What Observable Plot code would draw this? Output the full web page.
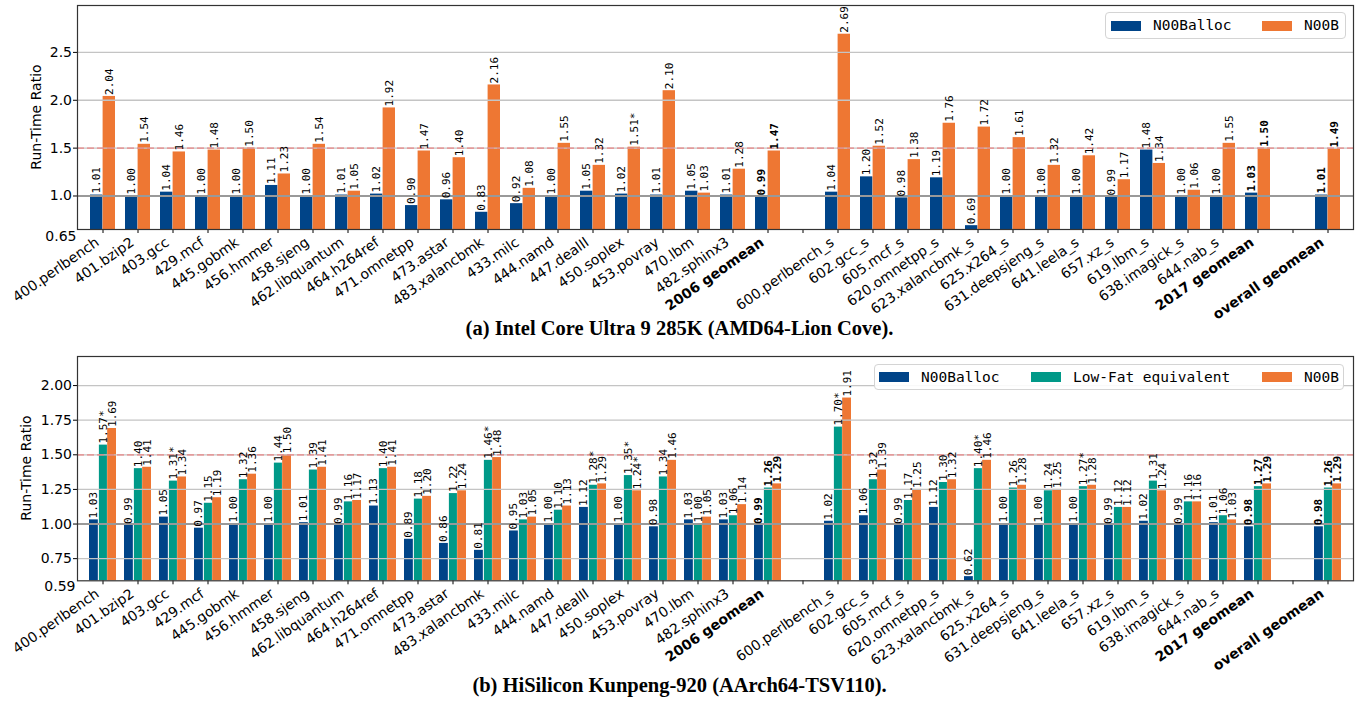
<!DOCTYPE html>
<html>
<head>
<meta charset="utf-8">
<script src="https://cdn.jsdelivr.net/npm/d3@7"></script>
<script src="https://cdn.jsdelivr.net/npm/@observablehq/plot@0.6"></script>
<style>
  body { margin: 0; background: #fff; }
  #wrap { position: relative; width: 1359px; height: 701px; overflow: hidden; font-family: "DejaVu Sans", sans-serif; }
  .panel { position: absolute; left: 0; }
  .caption { position: absolute; left: 0; width: 1359px; text-align: center; font-family: "Liberation Serif", "DejaVu Serif", serif; font-weight: bold; font-size: 20.5px; line-height: 22px; color: #000; }
  .ytitle { position: absolute; width: 200px; height: 16px; margin-left: -100px; margin-top: -8px; text-align: center; font-family: "DejaVu Sans", sans-serif; font-size: 14px; line-height: 16px; color: #000; transform: rotate(-90deg); white-space: nowrap; }
  .legend { position: absolute; background: rgba(255,255,255,0.9); border: 1px solid #d4d4d4; border-radius: 4px; box-sizing: border-box; }
  .sw { position: absolute; width: 30px; height: 10px; }
  .lt { position: absolute; font-family: "DejaVu Sans Mono", monospace; font-size: 14.5px; line-height: 16px; color: #000; white-space: pre; }
</style>
</head>
<body>
<div id="wrap"></div>
<script>
// ---------------- data ----------------
const benchmarks2006 = ["400.perlbench", "401.bzip2", "403.gcc", "429.mcf", "445.gobmk", "456.hmmer", "458.sjeng",
  "462.libquantum", "464.h264ref", "471.omnetpp", "473.astar", "483.xalancbmk", "433.milc", "444.namd",
  "447.dealII", "450.soplex", "453.povray", "470.lbm", "482.sphinx3"];
const benchmarks2017 = ["600.perlbench_s", "602.gcc_s", "605.mcf_s", "620.omnetpp_s", "623.xalancbmk_s", "625.x264_s",
  "631.deepsjeng_s", "641.leela_s", "657.xz_s", "619.lbm_s", "638.imagick_s", "644.nab_s"];
const geomeanLabels = ["2006 geomean", "2017 geomean", "overall geomean"];

const seriesA = ["N00Balloc", "N00B"];
const seriesB = ["N00Balloc", "Low-Fat equivalent", "N00B"];
const seriesColors = ["#004488", "#009988", "#EE7733"]; // N00Balloc, Low-Fat equivalent, N00B

// (a) Intel Core Ultra 9 285K
const intelN00Balloc = [1.01, 1.00, 1.04, 1.00, 1.00, 1.11, 1.00, 1.01, 1.02, 0.90, 0.96, 0.83, 0.92, 1.00, 1.05, 1.02, 1.01, 1.05, 1.01, 0.99,
  1.04, 1.20, 0.98, 1.19, 0.69, 1.00, 1.00, 1.00, 0.99, 1.48, 1.00, 1.00, 1.03,
  1.01];
const intelN00B = [2.04, 1.54, 1.46, 1.48, 1.50, 1.23, 1.54, 1.05, 1.92, 1.47, 1.40, 2.16, 1.08, 1.55, 1.32, 1.51, 2.10, 1.03, 1.28, 1.47,
  2.69, 1.52, 1.38, 1.76, 1.72, 1.61, 1.32, 1.42, 1.17, 1.34, 1.06, 1.55, 1.50,
  1.49];
const intelStarred = [["N00B", "450.soplex"]];

// (b) HiSilicon Kunpeng-920
const kunpengN00Balloc = [1.03, 0.99, 1.05, 0.97, 1.00, 1.00, 1.01, 0.99, 1.13, 0.89, 0.86, 0.81, 0.95, 1.00, 1.12, 1.00, 0.98, 1.03, 1.03, 0.99,
  1.02, 1.06, 0.99, 1.12, 0.62, 1.00, 1.00, 1.00, 0.99, 1.02, 0.99, 1.01, 0.98,
  0.98];
const kunpengLowFat = [1.57, 1.40, 1.31, 1.15, 1.32, 1.44, 1.39, 1.16, 1.40, 1.18, 1.22, 1.46, 1.03, 1.10, 1.28, 1.35, 1.34, 1.00, 1.06, 1.26,
  1.70, 1.32, 1.17, 1.30, 1.40, 1.26, 1.24, 1.27, 1.12, 1.31, 1.16, 1.06, 1.27,
  1.26];
const kunpengN00B = [1.69, 1.41, 1.34, 1.19, 1.36, 1.50, 1.41, 1.17, 1.41, 1.20, 1.24, 1.48, 1.05, 1.13, 1.29, 1.24, 1.46, 1.05, 1.14, 1.29,
  1.91, 1.39, 1.25, 1.32, 1.46, 1.28, 1.25, 1.28, 1.12, 1.24, 1.16, 1.03, 1.29,
  1.29];
const kunpengStarred = [["Low-Fat equivalent", "400.perlbench"], ["Low-Fat equivalent", "403.gcc"], ["Low-Fat equivalent", "483.xalancbmk"],
  ["Low-Fat equivalent", "447.dealII"], ["Low-Fat equivalent", "450.soplex"], ["N00B", "450.soplex"],
  ["Low-Fat equivalent", "600.perlbench_s"], ["Low-Fat equivalent", "623.xalancbmk_s"], ["Low-Fat equivalent", "641.leela_s"]];

const yTicksA = [0.65, 1.0, 1.5, 2.0, 2.5];
const yTicksB = [0.59, 0.75, 1.0, 1.25, 1.5, 1.75, 2.0];
const referenceLines = [1.0, 1.5];
const yTitle = "Run-Time Ratio";
const captionA = "(a) Intel Core Ultra 9 285K (AMD64-Lion Cove).";
const captionB = "(b) HiSilicon Kunpeng-920 (AArch64-TSV110).";

// ---------------- build ----------------
const valueCats = [...benchmarks2006, geomeanLabels[0], ...benchmarks2017, geomeanLabels[1], geomeanLabels[2]];
const gapA = "\u2007gap1", gapB = "\u2007gap2";
const xDomain = [...benchmarks2006, geomeanLabels[0], gapA, ...benchmarks2017, geomeanLabels[1], gapB, geomeanLabels[2]];
const colorOf = s => s === "N00Balloc" ? seriesColors[0] : s === "Low-Fat equivalent" ? seriesColors[1] : seriesColors[2];

function makePanel({series, values, starred, yDomain, yTicks, yFmt, minLabelDx, minLabelDy, padInner, padOuter, height, marginBottom}) {
  const W = 1359, mL = 77, mR = 6, mT = 5;
  const n = xDomain.length;
  const step = (W - mL - mR) / (n - padInner + 2 * padOuter);
  const bw = step * (1 - padInner);
  const k = series.length;
  const barW = bw / k;
  const marks = [];
  const rowsBy = series.map((s, si) => valueCats.map((c, i) => {
    const star = starred.some(([ss, cc]) => ss === s && cc === c);
    return {cat: c, v: values[si][i], label: values[si][i].toFixed(2) + (star ? "*" : ""), geo: geomeanLabels.includes(c)};
  }));
  series.forEach((s, si) => {
    marks.push(Plot.barY(rowsBy[si], {
      x: "cat", y: "v", fill: colorOf(s),
      insetLeft: si * barW + (k === 3 && si === 1 ? 0.8 : 0),
      insetRight: (k - 1 - si) * barW,
      clip: true
    }));
  });
  // grid lines (over bars)
  const grid = yTicks.slice(1).filter(t => t !== 1.0);
  marks.push(Plot.ruleY(grid, {stroke: "#c4c4c4", strokeWidth: 1.3}));
  marks.push(Plot.ruleY([referenceLines[0]], {stroke: "#999", strokeWidth: 2}));
  marks.push(Plot.ruleY([referenceLines[1]], {stroke: "#e77", strokeOpacity: 0.6, strokeWidth: 1.8, strokeDasharray: "7,3"}));
  // bar labels
  series.forEach((s, si) => {
    const dx = -bw / 2 + barW * (si + 0.5);
    for (const geo of [false, true]) {
      marks.push(Plot.text(rowsBy[si].filter(d => d.geo === geo), {
        x: "cat", y: "v", text: "label", rotate: -90, textAnchor: "start",
        dx, dy: -1.5, fontFamily: "DejaVu Sans Mono", fontSize: 11, fontWeight: geo ? "bold" : "normal", fill: "#000"
      }));
    }
  });
  // x tick labels
  const normal = xDomain.filter(c => !geomeanLabels.includes(c) && c !== gapA && c !== gapB);
  marks.push(Plot.text(normal, {x: d => d, frameAnchor: "bottom", rotate: -35, textAnchor: "end", dx: -3, dy: 15, fontSize: 14, fill: "#000"}));
  marks.push(Plot.text(geomeanLabels, {x: d => d, frameAnchor: "bottom", rotate: -35, textAnchor: "end", dx: -3, dy: 15, fontSize: 14, fontWeight: "bold", fill: "#000"}));
  // y min label
  marks.push(Plot.text([yDomain[0]], {y: d => d, frameAnchor: "left", text: d => d3.format(".2f")(d), textAnchor: "end", dx: minLabelDx, dy: minLabelDy, fontSize: 14, fill: "#000"}));
  marks.push(Plot.frame({stroke: "#333", strokeWidth: 1.2}));

  return Plot.plot({
    width: W, height, marginLeft: mL, marginRight: mR, marginTop: mT, marginBottom,
    style: {fontFamily: "DejaVu Sans", fontSize: "14px", color: "#000", background: "transparent", overflow: "visible"},
    x: {type: "band", domain: xDomain, paddingInner: padInner, paddingOuter: padOuter, align: 0.5,
        tickSize: 4, tickFormat: () => "", label: null},
    y: {domain: yDomain, ticks: yTicks.slice(1), tickFormat: d3.format(yFmt), tickSize: 4, tickPadding: 1.5, label: null},
    marks
  });
}

const wrap = document.getElementById("wrap");

const svgA = makePanel({
  series: seriesA, values: [intelN00Balloc, intelN00B], starred: intelStarred,
  yDomain: [yTicksA[0], 2.99], yTicks: yTicksA, yFmt: ".1f", minLabelDx: -1, minLabelDy: 7,
  padInner: 0.28, padOuter: 0.36, height: 335, marginBottom: 106
});
svgA.classList.add("panel"); svgA.style.top = "0px";
wrap.appendChild(svgA);

const svgB = makePanel({
  series: seriesB, values: [kunpengN00Balloc, kunpengLowFat, kunpengN00B], starred: kunpengStarred,
  yDomain: [yTicksB[0], 2.21], yTicks: yTicksB, yFmt: ".2f", minLabelDx: -2, minLabelDy: 6,
  padInner: 0.222, padOuter: 0.333, height: 350, marginBottom: 120.7
});
svgB.classList.add("panel"); svgB.style.top = "351px";
wrap.appendChild(svgB);

function addDiv(cls, text, style) {
  const d = document.createElement("div");
  d.className = cls; d.textContent = text;
  Object.assign(d.style, style);
  wrap.appendChild(d);
  return d;
}
addDiv("ytitle", yTitle, {left: "35.5px", top: "117px"});
addDiv("ytitle", yTitle, {left: "26px", top: "468px"});
addDiv("caption", captionA, {top: "317px"});
addDiv("caption", captionB, {top: "674px"});

function legend(series, box, items) {
  addDiv("legend", "", {left: box[0] + "px", top: box[1] + "px", width: box[2] + "px", height: box[3] + "px"});
  const cy = box[1] + box[3] / 2;
  series.forEach((s, i) => {
    addDiv("sw", "", {left: items[i] + "px", top: (cy - 5) + "px", background: colorOf(s)});
    addDiv("lt", s, {left: (items[i] + 42) + "px", top: (cy - 8.5) + "px"});
  });
}
legend(seriesA, [1105, 12, 241, 27], [1111, 1262]);
legend(seriesB, [874, 364, 470, 26], [879, 1031, 1262]);
</script>
</body>
</html>
